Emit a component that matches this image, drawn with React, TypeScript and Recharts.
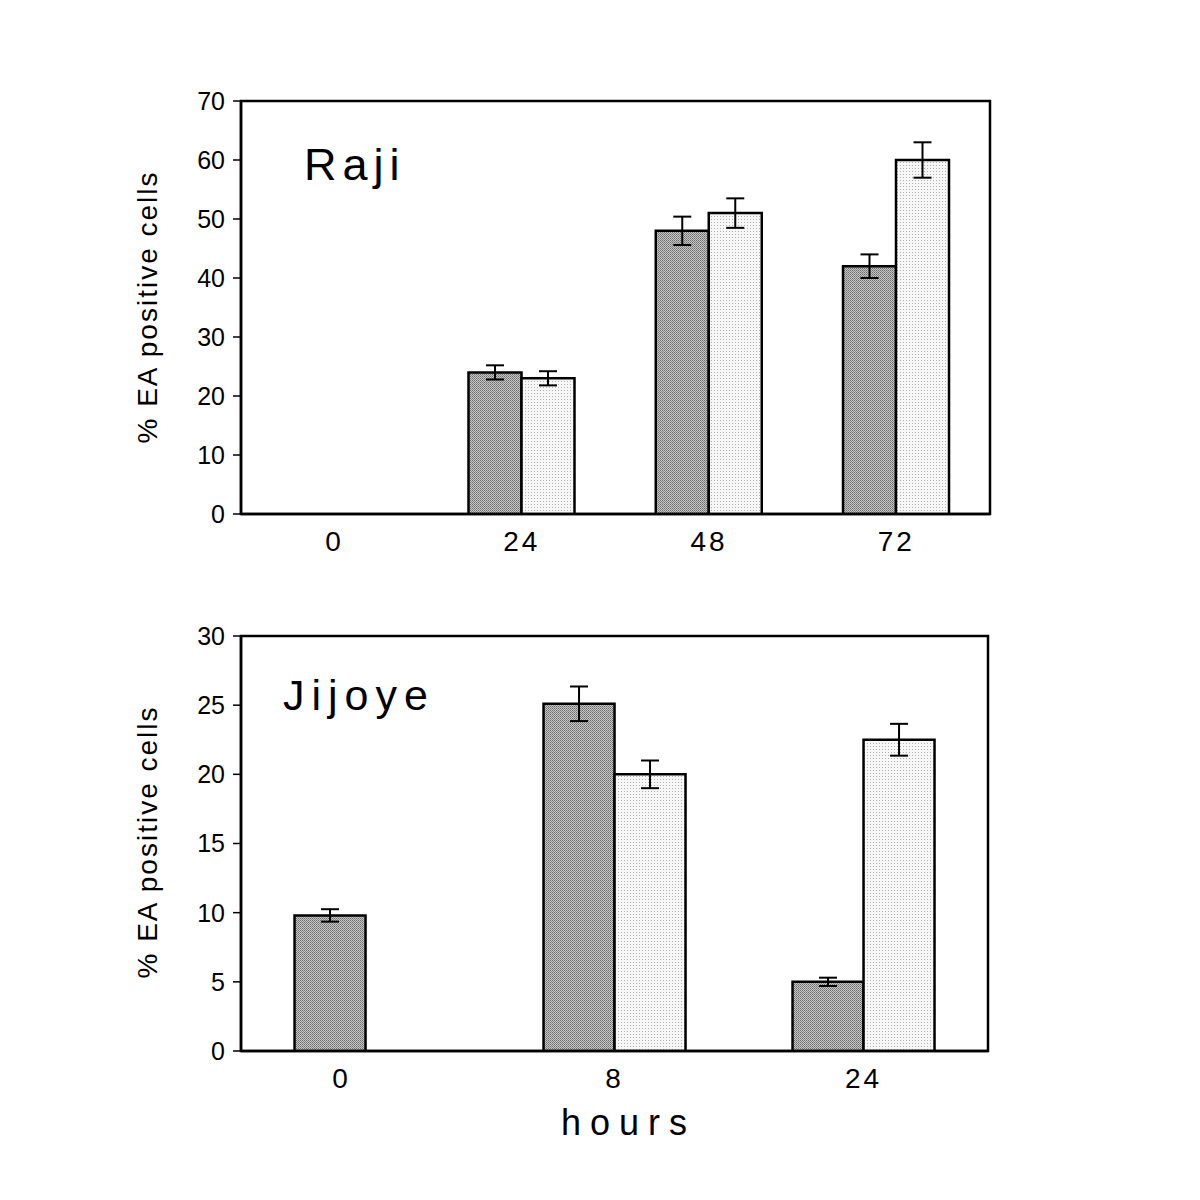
import { Bar, BarChart, ErrorBar, ReferenceArea, XAxis, YAxis } from 'recharts';

const rajiHours = ['0', '24', '48', '72'];
const rajiDark = [null, 24, 48, 42];
const rajiDarkErr = [null, 1.2, 2.4, 2.0];
const rajiLight = [null, 23, 51, 60];
const rajiLightErr = [null, 1.2, 2.5, 3.0];
const rajiTicks = [0, 10, 20, 30, 40, 50, 60, 70];

const jijoyeHours = ['0', '8', '24'];
const jijoyeDark = [9.8, 25.1, 5.0];
const jijoyeDarkErr = [0.45, 1.25, 0.3];
const jijoyeLight = [null, 20.0, 22.5];
const jijoyeLightErr = [null, 1.0, 1.15];
const jijoyeTicks = [0, 5, 10, 15, 20, 25, 30];

const rajiData = rajiHours.map((h, i) => ({
  hour: h,
  dark: rajiDark[i],
  darkErr: rajiDarkErr[i],
  light: rajiLight[i],
  lightErr: rajiLightErr[i],
}));

const jijoyeData = jijoyeHours.map((h, i) => ({
  hour: h,
  dark: jijoyeDark[i],
  darkErr: jijoyeDarkErr[i],
  light: jijoyeLight[i],
  lightErr: jijoyeLightErr[i],
}));

const font = 'Liberation Sans, Arial, sans-serif';

function Patterns() {
  return (
    <defs>
      <pattern id="darkFill" width="2" height="2" patternUnits="userSpaceOnUse">
        <rect width="2" height="2" fill="#c4c4c4" />
        <rect width="1" height="1" fill="#6e6e6e" />
        <rect x="1" y="1" width="1" height="1" fill="#8a8a8a" />
      </pattern>
      <pattern id="lightFill" width="3" height="3" patternUnits="userSpaceOnUse">
        <rect width="3" height="3" fill="#f7f7f7" />
        <rect width="1" height="1" fill="#b0b0b0" />
      </pattern>
    </defs>
  );
}

// first label of the lower panel sits a little left of its band centre in the original
function HourTick(props: any) {
  const { x, y, payload, shift } = props;
  const dx = shift && payload.index === 0 ? shift : 0;
  return (
    <text
      x={x + dx}
      y={y}
      dy="0.71em"
      textAnchor="middle"
      fill="#000"
      fontSize={28}
      fontFamily={font}
      letterSpacing={3}
    >
      {payload.value}
    </text>
  );
}

interface PanelProps {
  data: typeof rajiData;
  ticks: number[];
  top: number;
  firstShift?: number;
  margin: { top: number; right: number; bottom: number; left: number };
}

function Panel({ data, ticks, top, margin, firstShift }: PanelProps) {
  const max = ticks[ticks.length - 1];
  return (
    <div style={{ position: 'absolute', left: 0, top, width: 1200, height: 560 }}>
      <BarChart width={1200} height={560} data={data} margin={margin} barCategoryGap="21.5%" barGap={0}>
        <Patterns />
        <XAxis
          dataKey="hour"
          height={40}
          axisLine={{ stroke: '#000', strokeWidth: 2.5 }}
          tickLine={false}
          tickSize={0}
          tickMargin={17}
          tick={(p: any) => <HourTick {...p} shift={firstShift} />}
        />
        <YAxis
          width={60}
          domain={[0, max]}
          ticks={ticks}
          allowDataOverflow
          axisLine={{ stroke: '#000', strokeWidth: 2.5 }}
          tickLine={{ stroke: '#000', strokeWidth: 1.5 }}
          tickSize={8}
          tickMargin={8}
          tick={{ fill: '#000', fontSize: 25, fontFamily: font }}
        />
        <ReferenceArea y1={0} y2={max} fill="none" stroke="#000" strokeWidth={2.5} />
        <Bar dataKey="dark" fill="url(#darkFill)" stroke="#000" strokeWidth={2.5} isAnimationActive={false}>
          <ErrorBar dataKey="darkErr" width={9} stroke="#000" strokeWidth={2} />
        </Bar>
        <Bar dataKey="light" fill="url(#lightFill)" stroke="#000" strokeWidth={2.5} isAnimationActive={false}>
          <ErrorBar dataKey="lightErr" width={9} stroke="#000" strokeWidth={2} />
        </Bar>
      </BarChart>
    </div>
  );
}

const textStyle = { position: 'absolute' as const, fontFamily: font, color: '#000', whiteSpace: 'nowrap' as const };

function YLabel({ centerY }: { centerY: number }) {
  return (
    <div
      style={{
        ...textStyle,
        left: 148,
        top: centerY,
        fontSize: 28,
        letterSpacing: 2,
        transform: 'translate(-50%, -50%) rotate(-90deg)',
      }}
    >
      % EA positive cells
    </div>
  );
}

export default function App() {
  return (
    <div style={{ position: 'absolute', left: 0, top: 0, width: 1200, height: 1200, background: '#fff' }}>
      <Panel data={rajiData} ticks={rajiTicks} top={0} margin={{ top: 101, right: 210, bottom: 6, left: 181 }} />
      <Panel
        data={jijoyeData}
        ticks={jijoyeTicks}
        top={560}
        firstShift={-24}
        margin={{ top: 76, right: 212, bottom: 29, left: 181 }}
      />
      <YLabel centerY={307} />
      <YLabel centerY={842} />
      <div style={{ ...textStyle, left: 304, top: 139, fontSize: 45, letterSpacing: 6 }}>Raji</div>
      <div style={{ ...textStyle, left: 283, top: 671, fontSize: 43, letterSpacing: 7 }}>Jijoye</div>
      <div style={{ ...textStyle, left: 561, top: 1102, fontSize: 36, letterSpacing: 9 }}>hours</div>
    </div>
  );
}
